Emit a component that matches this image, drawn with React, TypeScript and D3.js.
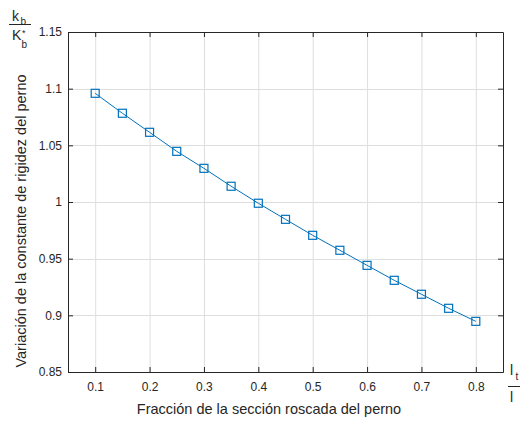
import React, { useEffect, useRef } from 'react';
import * as d3 from 'd3';

// fraction of threaded length (lt/l)
const fractions = [0.1, 0.15, 0.2, 0.25, 0.3, 0.35, 0.4, 0.45, 0.5, 0.55, 0.6, 0.65, 0.7, 0.75, 0.8];
// stiffness ratio kb/Kb*
const ratios = [1.0959, 1.0783, 1.0615, 1.0447, 1.0297, 1.0139, 0.9989, 0.9847, 0.9706, 0.9574, 0.9441, 0.9309, 0.9186, 0.9062, 0.8947];
const xTicks = [0.1, 0.2, 0.3, 0.4, 0.5, 0.6, 0.7, 0.8];
const yTicks = [0.85, 0.9, 0.95, 1, 1.05, 1.1, 1.15];
const xLabel = 'Fracción de la sección roscada del perno';
const yLabel = 'Variación de la constante de rigidez del perno';

const App = () => {
  const ref = useRef<SVGSVGElement>(null);

  useEffect(() => {
    const W = 531, H = 424;
    const margin = { top: 32, right: 28, bottom: 52, left: 68 };
    const width = W - margin.left - margin.right;
    const height = H - margin.top - margin.bottom;
    const font = 'Liberation Sans, Arial, Helvetica, sans-serif';
    const ink = '#262626';
    const blue = '#0072BD';

    const svg = d3.select(ref.current);
    svg.selectAll('*').remove();

    const x = d3.scaleLinear().domain([0.05, 0.85]).range([0, width]);
    const y = d3.scaleLinear().domain([0.85, 1.15]).range([height, 0]);

    const g = svg.append('g').attr('transform', `translate(${margin.left},${margin.top})`);

    // grid
    g.append('g').selectAll('line').data(xTicks).enter().append('line')
      .attr('x1', d => x(d) + 0.5).attr('x2', d => x(d) + 0.5)
      .attr('y1', 0).attr('y2', height)
      .attr('stroke', '#dedede').attr('stroke-width', 1);
    g.append('g').selectAll('line').data(yTicks.slice(1, -1)).enter().append('line')
      .attr('y1', d => Math.round(y(d)) + 0.5).attr('y2', d => Math.round(y(d)) + 0.5)
      .attr('x1', 0).attr('x2', width)
      .attr('stroke', '#dedede').attr('stroke-width', 1);

    // axes (MATLAB box with inward ticks)
    const fmt = (d: number) => String(d);
    const axBottom = g.append('g').attr('transform', `translate(0,${height})`)
      .call(d3.axisBottom(x).tickValues(xTicks).tickSizeInner(-5).tickSizeOuter(0).tickPadding(10).tickFormat(fmt as any));
    const axLeft = g.append('g')
      .call(d3.axisLeft(y).tickValues(yTicks).tickSizeInner(-5).tickSizeOuter(0).tickPadding(6).tickFormat(fmt as any));
    const axTop = g.append('g')
      .call(d3.axisTop(x).tickValues(xTicks).tickSizeInner(-5).tickSizeOuter(0).tickFormat(() => ''));
    const axRight = g.append('g').attr('transform', `translate(${width},0)`)
      .call(d3.axisRight(y).tickValues(yTicks).tickSizeInner(-5).tickSizeOuter(0).tickFormat(() => ''));
    [axBottom, axLeft, axTop, axRight].forEach(a => {
      a.selectAll('.domain').attr('stroke', ink);
      a.selectAll('.tick line').attr('stroke', ink);
      a.selectAll('.tick text').attr('fill', ink).style('font-family', font).style('font-size', '12px');
    });

    // line
    const pts = fractions.map((f, i) => [f, ratios[i]] as [number, number]);
    const line = d3.line<[number, number]>().x(d => x(d[0])).y(d => y(d[1]));
    g.append('path').datum(pts)
      .attr('d', line).attr('fill', 'none').attr('stroke', blue).attr('stroke-width', 1);

    // square markers
    const s = 8;
    g.append('g').selectAll('rect').data(pts).enter().append('rect')
      .attr('x', d => x(d[0]) - s / 2).attr('y', d => y(d[1]) - s / 2)
      .attr('width', s).attr('height', s)
      .attr('fill', 'none').attr('stroke', blue).attr('stroke-width', 1.2);

    // axis labels
    svg.append('text')
      .attr('x', 269).attr('y', 414)
      .attr('text-anchor', 'middle')
      .style('font-family', font).style('font-size', '14.5px').attr('fill', ink)
      .text(xLabel);
    svg.append('text')
      .attr('transform', 'translate(26,221) rotate(-90)')
      .attr('text-anchor', 'middle')
      .style('font-family', font).style('font-size', '14.5px').attr('fill', ink)
      .text(yLabel);

    // kb / Kb* fraction at top-left
    const frac = svg.append('g').style('font-family', font).attr('fill', ink);
    frac.append('text').attr('x', 12).attr('y', 21).style('font-size', '14px').text('k');
    frac.append('text').attr('x', 20.5).attr('y', 25).style('font-size', '10px').text('b');
    frac.append('line').attr('x1', 9).attr('x2', 31).attr('y1', 24.5).attr('y2', 24.5)
      .attr('stroke', ink).attr('stroke-width', 1);
    frac.append('text').attr('x', 12).attr('y', 40).style('font-size', '14px').text('K');
    frac.append('text').attr('x', 21.5).attr('y', 48).style('font-size', '10px').text('b');
    frac.append('text').attr('x', 22).attr('y', 36).style('font-size', '9px').text('*');

    // lt / l fraction at bottom-right
    frac.append('text').attr('x', 510).attr('y', 375).style('font-size', '14px').text('l');
    frac.append('text').attr('x', 515.5).attr('y', 380).style('font-size', '10px').text('t');
    frac.append('line').attr('x1', 508).attr('x2', 520).attr('y1', 386.5).attr('y2', 386.5)
      .attr('stroke', ink).attr('stroke-width', 1);
    frac.append('text').attr('x', 510).attr('y', 402).style('font-size', '14px').text('l');
  }, []);

  return (
    <svg ref={ref} width={531} height={424}
      style={{ position: 'absolute', left: 0, top: 0, background: '#fff' }} />
  );
};

export default App;
